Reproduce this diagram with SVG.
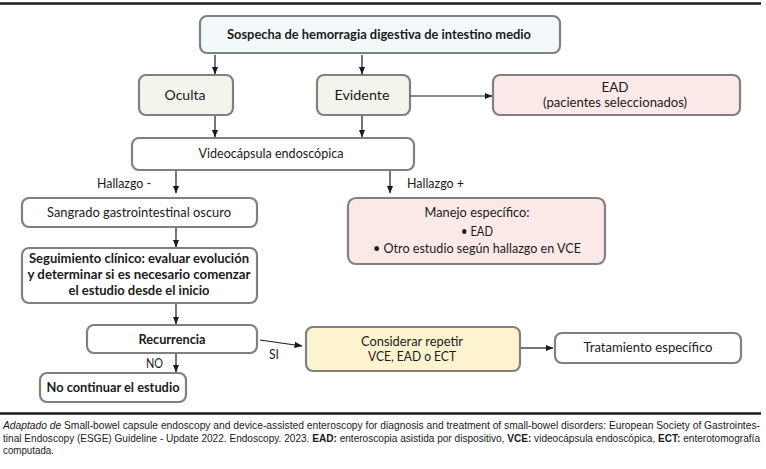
<svg xmlns="http://www.w3.org/2000/svg" width="766" height="469" viewBox="0 0 766 469">
<defs>
<marker id="ah" viewBox="0 0 8 8" refX="7.5" refY="4" markerWidth="8" markerHeight="8" markerUnits="userSpaceOnUse" orient="auto">
<path d="M0,0.8 L8,4 L0,7.2 Z" fill="#1a1a1a"/>
</marker>
<style>
.box{stroke:#808080;stroke-width:2.2}
.t{font-family:Lato,"Liberation Sans",sans-serif;font-size:13px;fill:#1a1a1a;text-anchor:middle}
.b{font-weight:bold}
.l{font-family:Lato,"Liberation Sans",sans-serif;font-size:13px;fill:#1a1a1a}
.c{font-family:"Liberation Sans",Arial,sans-serif;font-size:10.5px;fill:#1a1a1a}
.conn line{stroke:#1a1a1a;stroke-width:1.2;marker-end:url(#ah)}
</style>
</defs>
<rect width="766" height="469" fill="#ffffff"/>
<line x1="0" y1="3.5" x2="761" y2="3.5" stroke="#1a1a1a" stroke-width="2.5"/>

<g id="n-sospecha">
<rect class="box" x="200" y="16" width="360" height="37" rx="7" fill="#f3f9fa"/>
<text class="t b" x="379" y="39" textLength="304" lengthAdjust="spacingAndGlyphs">Sospecha de hemorragia digestiva de intestino medio</text>
</g>
<g id="n-oculta">
<rect class="box" x="139" y="75" width="94" height="40" rx="7" fill="#f3f5ec"/>
<text class="t" x="185" y="100" textLength="41" lengthAdjust="spacingAndGlyphs">Oculta</text>
</g>
<g id="n-evidente">
<rect class="box" x="317" y="75" width="93" height="40" rx="7" fill="#f3f5ec"/>
<text class="t" x="362" y="100" textLength="55" lengthAdjust="spacingAndGlyphs">Evidente</text>
</g>
<g id="n-ead">
<rect class="box" x="493" y="75" width="247" height="40" rx="7" fill="#fbe9e7"/>
<text class="t" x="615" y="92" textLength="27" lengthAdjust="spacingAndGlyphs">EAD</text>
<text class="t" x="615" y="107" textLength="144" lengthAdjust="spacingAndGlyphs">(pacientes seleccionados)</text>
</g>
<g id="n-video">
<rect class="box" x="132" y="138" width="282" height="32" rx="7" fill="#ffffff"/>
<text class="t" x="271" y="158" textLength="145" lengthAdjust="spacingAndGlyphs">Videocápsula endoscópica</text>
</g>
<g id="n-sangrado">
<rect class="box" x="22" y="198" width="235" height="29" rx="7" fill="#ffffff"/>
<text class="t" x="139" y="217" textLength="184" lengthAdjust="spacingAndGlyphs">Sangrado gastrointestinal oscuro</text>
</g>
<g id="n-seguimiento">
<rect class="box" x="22" y="248" width="235" height="55" rx="7" fill="#ffffff"/>
<text class="t b" x="139" y="263" textLength="220" lengthAdjust="spacingAndGlyphs">Seguimiento clínico: evaluar evolución</text>
<text class="t b" x="139" y="279" textLength="223" lengthAdjust="spacingAndGlyphs">y determinar si es necesario comenzar</text>
<text class="t b" x="139" y="295" textLength="141" lengthAdjust="spacingAndGlyphs">el estudio desde el inicio</text>
</g>
<g id="n-manejo">
<rect class="box" x="348" y="198" width="257" height="66" rx="8" fill="#fbe9e7"/>
<text class="t" x="477" y="217" textLength="105" lengthAdjust="spacingAndGlyphs">Manejo específico:</text>
<text class="t" x="477" y="236" textLength="32" lengthAdjust="spacingAndGlyphs">• EAD</text>
<text class="t" x="477" y="253" textLength="208" lengthAdjust="spacingAndGlyphs">• Otro estudio según hallazgo en VCE</text>
</g>
<g id="n-recurrencia">
<rect class="box" x="87" y="325" width="170" height="28" rx="7" fill="#ffffff"/>
<text class="t b" x="172" y="344" textLength="67" lengthAdjust="spacingAndGlyphs">Recurrencia</text>
</g>
<g id="n-nocontinuar">
<rect class="box" x="40" y="373" width="146" height="29" rx="7" fill="#ffffff"/>
<text class="t b" x="113" y="392" textLength="133" lengthAdjust="spacingAndGlyphs">No continuar el estudio</text>
</g>
<g id="n-considerar">
<rect class="box" x="306" y="327" width="214" height="44" rx="7" fill="#fdf3cf"/>
<text class="t" x="412" y="346" textLength="102" lengthAdjust="spacingAndGlyphs">Considerar repetir</text>
<text class="t" x="412" y="361" textLength="88" lengthAdjust="spacingAndGlyphs">VCE, EAD o ECT</text>
</g>
<g id="n-tratamiento">
<rect class="box" x="555" y="333" width="186" height="30" rx="7" fill="#ffffff"/>
<text class="t" x="648" y="352" textLength="129" lengthAdjust="spacingAndGlyphs">Tratamiento específico</text>
</g>

<g id="connectors" class="conn">
<line x1="215" y1="55" x2="215" y2="74"/>
<line x1="362" y1="55" x2="362" y2="74"/>
<line x1="410" y1="96" x2="492" y2="96"/>
<line x1="215" y1="116" x2="215" y2="137"/>
<line x1="362" y1="116" x2="362" y2="137"/>
<line x1="176" y1="171" x2="176" y2="193"/>
<line x1="390" y1="171" x2="390" y2="193"/>
<line x1="176" y1="228" x2="176" y2="247"/>
<line x1="176" y1="304" x2="176" y2="324"/>
<line x1="176" y1="354" x2="176" y2="372"/>
<line x1="260" y1="340" x2="302" y2="346"/>
<line x1="521" y1="348" x2="553" y2="348"/>
</g>
<g id="labels">
<text class="l" x="97" y="188" textLength="54" lengthAdjust="spacingAndGlyphs">Hallazgo -</text>
<text class="l" x="407" y="188" textLength="57" lengthAdjust="spacingAndGlyphs">Hallazgo +</text>
<text class="l" x="146" y="368" textLength="17" lengthAdjust="spacingAndGlyphs">NO</text>
<text class="l" x="269" y="359" textLength="10" lengthAdjust="spacingAndGlyphs">SI</text>
</g>

<line x1="0" y1="413.5" x2="761" y2="413.5" stroke="#1a1a1a" stroke-width="2.5"/>
<g id="caption">
<text class="c" transform="translate(3,429) scale(0.912,1)" x="0" y="0" textLength="830" lengthAdjust="spacingAndGlyphs"><tspan font-style="italic">Adaptado de</tspan> Small-bowel capsule endoscopy and device-assisted enteroscopy for diagnosis and treatment of small-bowel disorders: European Society of Gastrointes-</text>
<text class="c" transform="translate(3,442) scale(0.93,1)" x="0" y="0" textLength="814" lengthAdjust="spacingAndGlyphs">tinal Endoscopy (ESGE) Guideline - Update 2022. Endoscopy. 2023. <tspan font-weight="bold">EAD:</tspan> enteroscopia asistida por dispositivo, <tspan font-weight="bold">VCE:</tspan> videocápsula endoscópica, <tspan font-weight="bold">ECT:</tspan> enterotomografía</text>
<text class="c" transform="translate(3,454) scale(0.93,1)" x="0" y="0">computada.</text>
</g>
</svg>
